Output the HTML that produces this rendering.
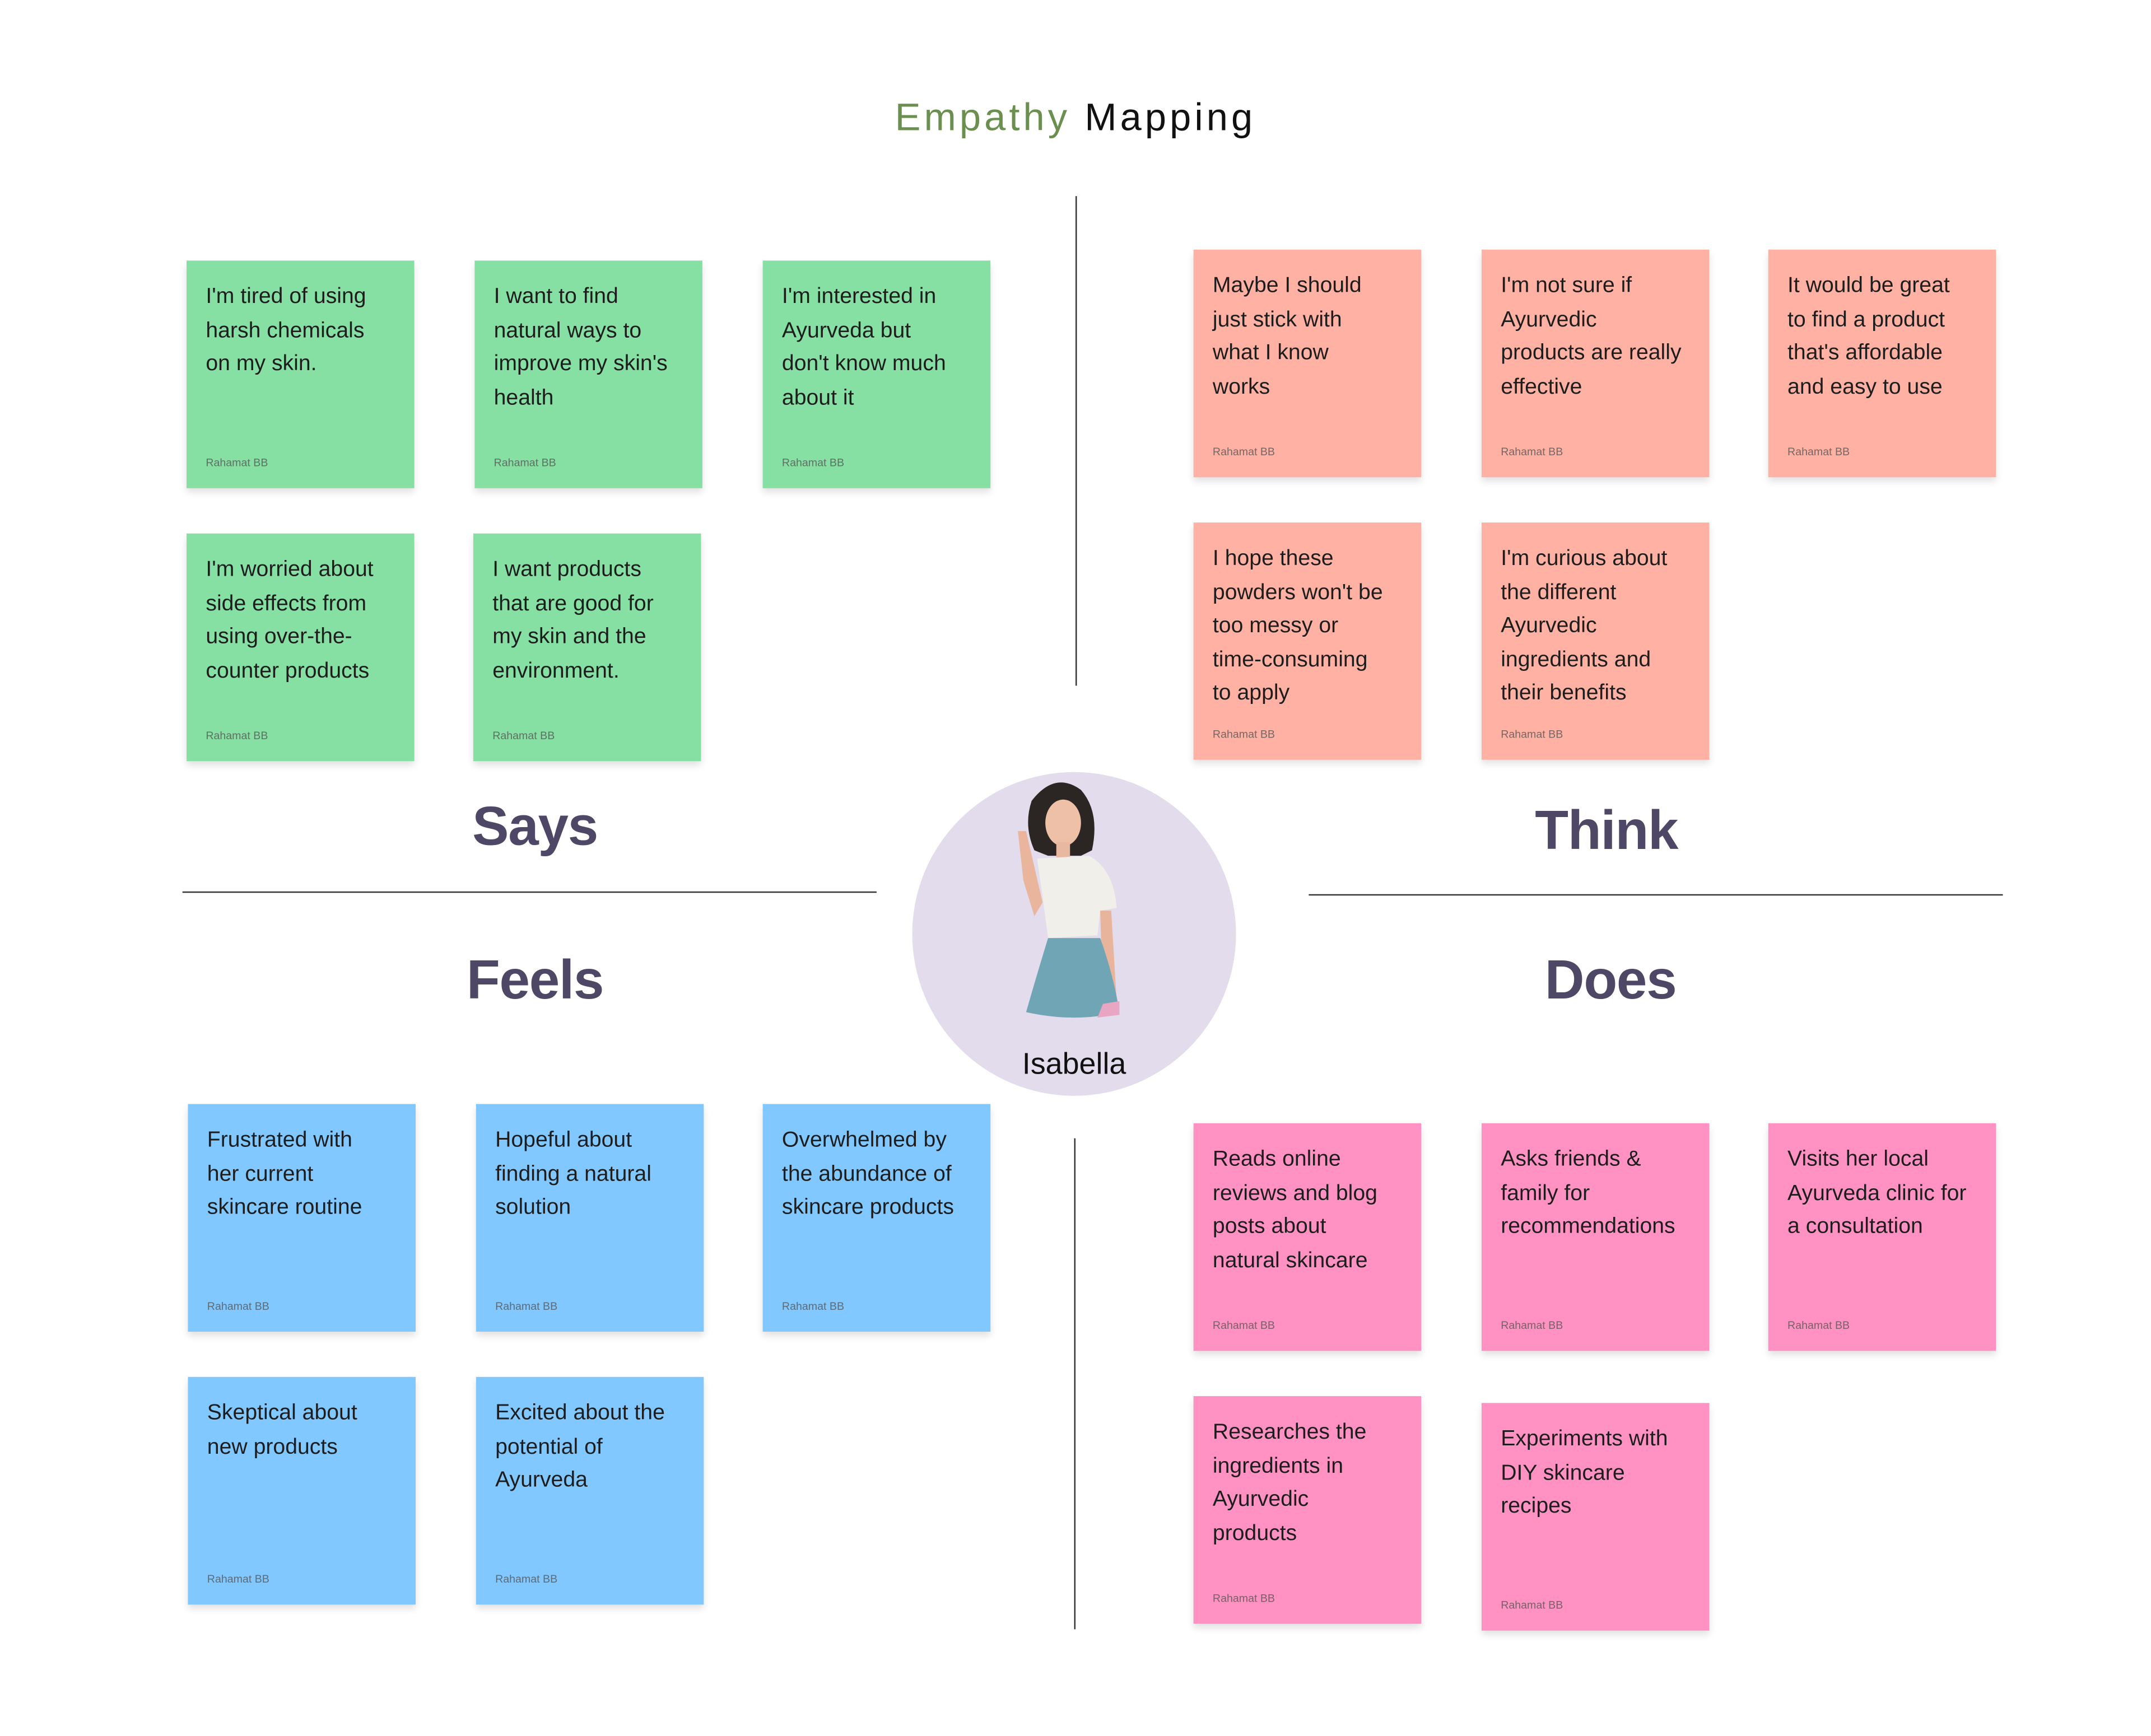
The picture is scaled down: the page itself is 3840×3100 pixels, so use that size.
<!DOCTYPE html>
<html><head><meta charset="utf-8">
<style>
html,body{margin:0;padding:0;background:#fff;}
#root{width:3840px;height:3100px;overflow:hidden;position:relative;background:#fff;}
#s{position:absolute;left:0;top:0;width:1568px;height:1266px;transform:scale(2.449);transform-origin:0 0;font-family:"Liberation Sans",sans-serif;}
.n{position:absolute;width:166px;height:166px;box-shadow:0 3px 5px rgba(0,0,0,0.12);box-sizing:border-box;padding:15px 10px 0 14px;font-size:16px;line-height:24.5px;color:#1d1d1d;}
.n .a{position:absolute;left:14px;bottom:14px;font-size:8px;line-height:8px;color:#555;opacity:.8}
.g{background:#86e0a3}.r{background:#ffb1a3}.b{background:#80c8ff}.p{background:#ff92c2}
.L{position:absolute;font-weight:bold;font-size:40px;color:#4f4766;transform:translateX(-50%);white-space:nowrap;letter-spacing:-0.5px}
.hl{position:absolute;height:1px;background:#333}
.vl{position:absolute;width:1px;background:#333}
</style></head><body><div id="root"><div id="s">
<div style="position:absolute;left:784px;top:70px;transform:translateX(-50%);font-size:28px;letter-spacing:2.5px;white-space:nowrap"><span style="color:#6a8f4e">Empathy</span> <span style="color:#111">Mapping</span></div>

<div class="vl" style="left:784px;top:143px;height:357px"></div>
<div class="vl" style="left:783px;top:830px;height:358px"></div>
<div class="hl" style="left:133px;top:650px;width:506px"></div>
<div class="hl" style="left:954px;top:652px;width:506px"></div>

<div class="L" style="left:390px;top:581px">Says</div>
<div class="L" style="left:1171px;top:584px">Think</div>
<div class="L" style="left:390px;top:693px">Feels</div>
<div class="L" style="left:1174px;top:693px">Does</div>

<div class="n g" style="left:136px;top:190px">I'm tired of using<br>harsh chemicals<br>on my skin.<div class="a">Rahamat BB</div></div>
<div class="n g" style="left:346px;top:190px">I want to find<br>natural ways to<br>improve my skin's<br>health<div class="a">Rahamat BB</div></div>
<div class="n g" style="left:556px;top:190px">I'm interested in<br>Ayurveda but<br>don't know much<br>about it<div class="a">Rahamat BB</div></div>
<div class="n g" style="left:136px;top:389px">I'm worried about<br>side effects from<br>using over-the-<br>counter products<div class="a">Rahamat BB</div></div>
<div class="n g" style="left:345px;top:389px">I want products<br>that are good for<br>my skin and the<br>environment.<div class="a">Rahamat BB</div></div>

<div class="n r" style="left:870px;top:182px">Maybe I should<br>just stick with<br>what I know<br>works<div class="a">Rahamat BB</div></div>
<div class="n r" style="left:1080px;top:182px">I'm not sure if<br>Ayurvedic<br>products are really<br>effective<div class="a">Rahamat BB</div></div>
<div class="n r" style="left:1289px;top:182px">It would be great<br>to find a product<br>that's affordable<br>and easy to use<div class="a">Rahamat BB</div></div>
<div class="n r" style="left:870px;top:381px;height:173px">I hope these<br>powders won't be<br>too messy or<br>time-consuming<br>to apply<div class="a">Rahamat BB</div></div>
<div class="n r" style="left:1080px;top:381px;height:173px">I'm curious about<br>the different<br>Ayurvedic<br>ingredients and<br>their benefits<div class="a">Rahamat BB</div></div>

<div class="n b" style="left:137px;top:805px">Frustrated with<br>her current<br>skincare routine<div class="a">Rahamat BB</div></div>
<div class="n b" style="left:347px;top:805px">Hopeful about<br>finding a natural<br>solution<div class="a">Rahamat BB</div></div>
<div class="n b" style="left:556px;top:805px">Overwhelmed by<br>the abundance of<br>skincare products<div class="a">Rahamat BB</div></div>
<div class="n b" style="left:137px;top:1004px">Skeptical about<br>new products<div class="a">Rahamat BB</div></div>
<div class="n b" style="left:347px;top:1004px">Excited about the<br>potential of<br>Ayurveda<div class="a">Rahamat BB</div></div>

<div class="n p" style="left:870px;top:819px">Reads online<br>reviews and blog<br>posts about<br>natural skincare<div class="a">Rahamat BB</div></div>
<div class="n p" style="left:1080px;top:819px">Asks friends &amp;<br>family for<br>recommendations<div class="a">Rahamat BB</div></div>
<div class="n p" style="left:1289px;top:819px">Visits her local<br>Ayurveda clinic for<br>a consultation<div class="a">Rahamat BB</div></div>
<div class="n p" style="left:870px;top:1018px">Researches the<br>ingredients in<br>Ayurvedic<br>products<div class="a">Rahamat BB</div></div>
<div class="n p" style="left:1080px;top:1023px">Experiments with<br>DIY skincare<br>recipes<div class="a">Rahamat BB</div></div>

<svg style="position:absolute;left:664px;top:562px" width="238" height="238" viewBox="0 0 238 238">
<circle cx="119" cy="119" r="118" fill="#e2dcec"/>
<path d="M88 22 Q105 0 124 14 Q138 30 132 58 L124 62 L100 62 L90 58 Q82 40 88 22Z" fill="#2b2624"/>
<ellipse cx="111" cy="38" rx="13" ry="17" fill="#eec0a8"/>
<rect x="106" y="52" width="10" height="12" fill="#e9b8a0"/>
<path d="M92 64 L130 62 Q148 72 150 100 L138 102 L136 120 L100 122 L96 92 Z" fill="#f1efea"/>
<path d="M78 44 L84 44 L90 70 L96 96 L90 106 L82 80 Z" fill="#eab59d"/>
<path d="M138 102 L146 102 L150 168 L140 168 Z" fill="#e8b59c"/>
<path d="M100 122 L138 122 Q148 150 152 176 Q120 184 84 176 Q92 148 100 122Z" fill="#6fa5b4"/>
<path d="M140 170 L152 168 L152 178 L136 180Z" fill="#e9a6c3"/>
<text x="119" y="221" text-anchor="middle" font-family="Liberation Sans,sans-serif" font-size="22" fill="#111">Isabella</text>
</svg>
</div></div></body></html>
